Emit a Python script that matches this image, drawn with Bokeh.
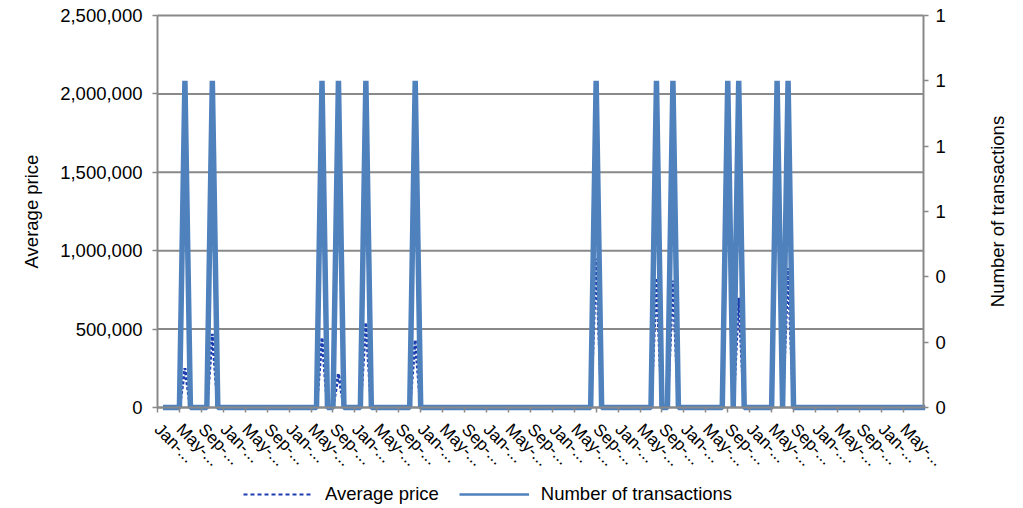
import math
from bokeh.plotting import figure
from bokeh.models import Range1d, LinearAxis, FixedTicker, NumeralTickFormatter, Legend, LegendItem, Label
from bokeh.embed import file_html
from bokeh.resources import INLINE

# ---------------- data ----------------
month_index = list(range(1, 141))          # category positions (month 0 is blank)
tick_positions = list(range(0, 137, 4))    # one label every 4 months
tick_labels = ["Jan-...", "May-...", "Sep-..."] * 11 + ["Jan-...", "May-..."]

transactions = [
    0, 0, 0, 0, 1, 0, 0, 0, 0, 1,
    0, 0, 0, 0, 0, 0, 0, 0, 0, 0,
    0, 0, 0, 0, 0, 0, 0, 0, 0, 1,
    0, 0, 1, 0, 0, 0, 0, 1, 0, 0,
    0, 0, 0, 0, 0, 0, 1, 0, 0, 0,
    0, 0, 0, 0, 0, 0, 0, 0, 0, 0,
    0, 0, 0, 0, 0, 0, 0, 0, 0, 0,
    0, 0, 0, 0, 0, 0, 0, 0, 0, 1,
    0, 0, 0, 0, 0, 0, 0, 0, 0, 0,
    1, 0, 0, 1, 0, 0, 0, 0, 0, 0,
    0, 0, 0, 1, 0, 1, 0, 0, 0, 0,
    0, 0, 1, 0, 1, 0, 0, 0, 0, 0,
    0, 0, 0, 0, 0, 0, 0, 0, 0, 0,
    0, 0, 0, 0, 0, 0, 0, 0, 0, 0,
]

average_price = [
    0, 0, 0, 0, 250000, 0, 0, 0, 0, 470000,
    0, 0, 0, 0, 0, 0, 0, 0, 0, 0,
    0, 0, 0, 0, 0, 0, 0, 0, 0, 445000,
    0, 0, 215000, 0, 0, 0, 0, 540000, 0, 0,
    0, 0, 0, 0, 0, 0, 430000, 0, 0, 0,
    0, 0, 0, 0, 0, 0, 0, 0, 0, 0,
    0, 0, 0, 0, 0, 0, 0, 0, 0, 0,
    0, 0, 0, 0, 0, 0, 0, 0, 0, 950000,
    0, 0, 0, 0, 0, 0, 0, 0, 0, 0,
    825000, 0, 0, 810000, 0, 0, 0, 0, 0, 0,
    0, 0, 0, 1900000, 0, 700000, 0, 0, 0, 0,
    0, 0, 1900000, 0, 890000, 0, 0, 0, 0, 0,
    0, 0, 0, 0, 0, 0, 0, 0, 0, 0,
    0, 0, 0, 0, 0, 0, 0, 0, 0, 0,
]

price_ticks = [0, 500000, 1000000, 1500000, 2000000, 2500000]
count_ticks = [0, 0.2, 0.4, 0.6, 0.8, 1.0, 1.2]
PRICE_MAX = 2500000
COUNT_MAX = 1.2
X_MAX = 139.7

# ---------------- layout (pixels) ----------------
FONT = "Liberation Sans"
FS = "18.5px"
GREY = "#898989"
SOLID = "#4F81BD"
DOT = "#1C3DB0"

W, H = 1020, 506
PLOT_L, PLOT_R = 157, 923          # value band, left/right edge
PLOT_T, PLOT_B = 15, 407           # value band, top/bottom edge
PX_X = (PLOT_R - PLOT_L) / X_MAX
PX_P = (PLOT_B - PLOT_T) / PRICE_MAX
PX_C = (PLOT_B - PLOT_T) / COUNT_MAX

# the whole canvas is the frame; axes are pinned at the value band's edges
p = figure(width=W, height=H, output_backend="svg", toolbar_location=None,
           x_range=Range1d(-PLOT_L / PX_X, (W - PLOT_L) / PX_X),
           y_range=Range1d(-(H - PLOT_B) / PX_P, PRICE_MAX + PLOT_T / PX_P),
           min_border=0)
p.extra_y_ranges = {"tx": Range1d(-(H - PLOT_B) / PX_C, COUNT_MAX + PLOT_T / PX_C)}
p.outline_line_color = None
p.background_fill_color = "white"
p.border_fill_color = "white"
p.xgrid.visible = False
p.ygrid.visible = False

# horizontal gridlines across the value band only
p.segment(x0=[0] * len(price_ticks), x1=[X_MAX] * len(price_ticks),
          y0=price_ticks, y1=price_ticks, line_color=GREY, line_width=2)

def style_axis(ax):
    ax.axis_line_color = GREY
    ax.axis_line_width = 2
    ax.major_tick_line_color = GREY
    ax.major_tick_line_width = 1.5
    ax.major_tick_out = 5
    ax.major_tick_in = 0
    ax.minor_tick_line_color = None
    ax.major_label_text_font = FONT
    ax.major_label_text_font_size = FS
    ax.major_label_text_color = "#000000"

# left axis
yl = p.yaxis[0]
yl.ticker = FixedTicker(ticks=price_ticks)
yl.formatter = NumeralTickFormatter(format="0,0")
yl.bounds = (0, PRICE_MAX)
yl.fixed_location = 0
style_axis(yl)
yl.major_label_standoff = 10

# right axis
yr = LinearAxis(y_range_name="tx", ticker=FixedTicker(ticks=count_ticks),
                formatter=NumeralTickFormatter(format="0"), bounds=(0, COUNT_MAX),
                fixed_location=X_MAX)
style_axis(yr)
yr.major_label_standoff = 7
p.add_layout(yr, "right")

# bottom (category) axis, pinned at value 0
xb = p.xaxis[0]
xb.ticker = FixedTicker(ticks=tick_positions)
xb.major_label_overrides = {t: lab for t, lab in zip(tick_positions, tick_labels)}
xb.bounds = (0, X_MAX)
xb.fixed_location = 0
style_axis(xb)
xb.major_label_text_font_size = "17px"
xb.major_label_orientation = -math.pi / 4
xb.major_label_standoff = 14

# axis titles (centred on the value band, reading bottom-to-top)
for txt, px in (("Average price", 31), ("Number of transactions", 997)):
    p.add_layout(Label(x=(px - PLOT_L) / PX_X, y=PRICE_MAX / 2, text=txt,
                       angle=math.pi / 2, text_align="center", text_baseline="middle",
                       text_font=FONT, text_font_size=FS, text_color="#000000"))

# series
p.line(x=month_index, y=average_price, line_color=DOT, line_width=3, line_dash="3 2")
p.line(x=month_index, y=transactions, y_range_name="tx", line_color=SOLID, line_width=5.5)

# legend proxies (single NaN point, never drawn in the plot)
nan = float("nan")
lg1 = p.line(x=[nan], y=[nan], line_color=DOT, line_width=2, line_dash="4 3")
lg2 = p.line(x=[nan], y=[nan], line_color=SOLID, line_width=2.5)
legend = Legend(items=[LegendItem(label="Average price", renderers=[lg1]),
                       LegendItem(label="Number of transactions", renderers=[lg2])],
                location=(243, 1), orientation="horizontal",
                glyph_width=70, label_standoff=12, spacing=20, padding=0, margin=0,
                border_line_color=None, background_fill_alpha=0,
                label_text_font=FONT, label_text_font_size=FS, label_text_color="#000000")
p.add_layout(legend)

open("out.html", "w").write(file_html(p, INLINE))
